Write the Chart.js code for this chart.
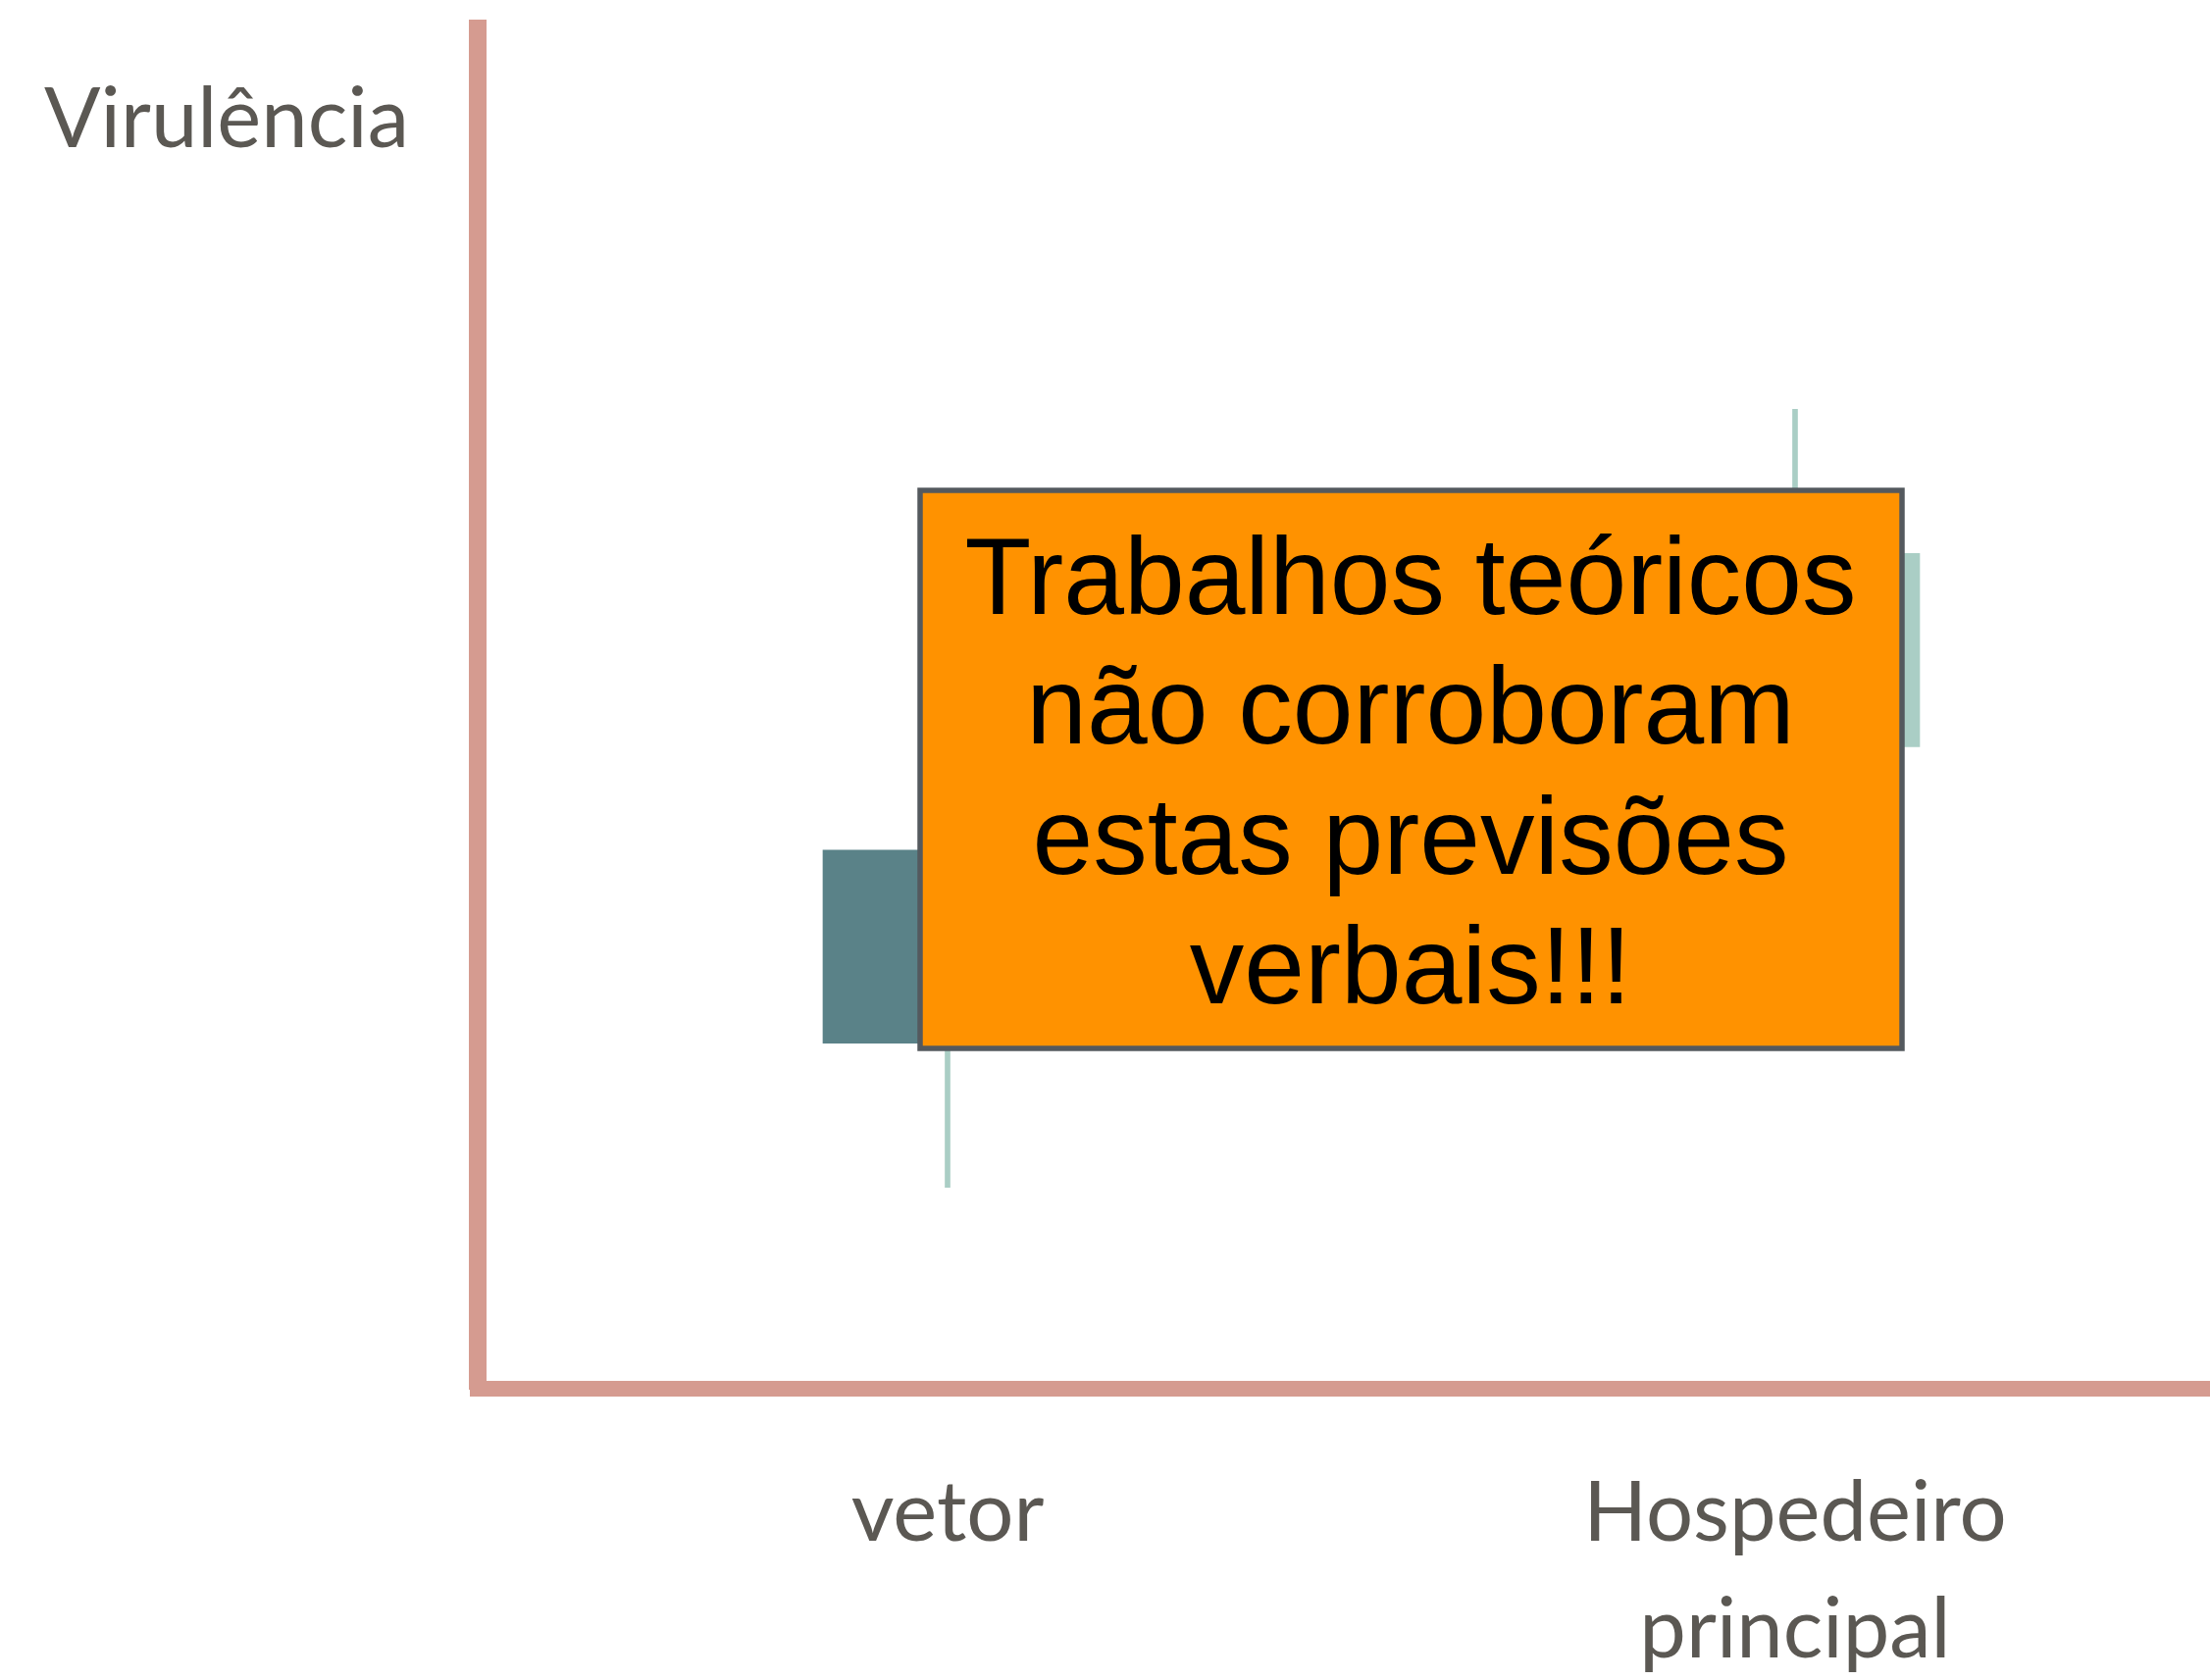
<!DOCTYPE html>
<html>
<head>
<meta charset="utf-8">
<title>Virulência</title>
<script src="https://cdn.jsdelivr.net/npm/chart.js@4.4.1/dist/chart.umd.min.js"></script>
<style>
  html, body { margin: 0; padding: 0; background: #ffffff; }
  #wrap { width: 2253px; height: 1713px; }
</style>
</head>
<body>
<div id="wrap"><canvas id="chart" width="2253" height="1713"></canvas></div>
<script>
// Chart data
const categories = ['vetor', ['Hospedeiro', 'principal']];
const catX = [1, 2];
const boxLow = [25.4, 47.2];
const boxHigh = [39.6, 61.4];
const whiskerLow = [14.8, 36.6];
const whiskerHigh = [50.2, 72.0];
const yTitle = 'Virulência';
const noteLines = ['Trabalhos teóricos', 'não corroboram', 'estas previsões', 'verbais!!!'];

const axisColor = '#d59b90';
const textColor = '#5b5853';

// Title at top left + the orange note drawn on top of the bars
const overlayPlugin = {
    id: 'overlay',
    afterDraw(chart) {
        const ctx = chart.ctx;
        ctx.save();
        ctx.fillStyle = textColor;
        ctx.font = '85px Lato';
        ctx.textAlign = 'left';
        ctx.textBaseline = 'alphabetic';
        ctx.fillText(yTitle, 45, 150);

        // note box
        ctx.fillStyle = '#ff9200';
        ctx.fillRect(938, 500, 1001, 569);
        ctx.strokeStyle = '#54595e';
        ctx.lineWidth = 5.5;
        ctx.strokeRect(938, 500, 1001, 569);

        ctx.fillStyle = '#000000';
        ctx.font = '111px "Liberation Sans"';
        ctx.textAlign = 'center';
        noteLines.forEach((line, i) => {
            ctx.fillText(line, 1438, 626 + i * 132.3);
        });
        ctx.restore();
    }
};

const ctx = document.getElementById('chart').getContext('2d');
const chart = new Chart(ctx, {
    type: 'bar',
    data: {
        datasets: [{
            label: 'whisker',
            data: catX.map((x, i) => ({ x: x, y: [whiskerLow[i], whiskerHigh[i]] })),
            backgroundColor: '#aacec5',
            barThickness: 5,
            grouped: false,
            order: 2
        }, {
            label: 'box',
            data: catX.map((x, i) => ({ x: x, y: [boxLow[i], boxHigh[i]] })),
            backgroundColor: ['#5a8288', '#aacec5'],
            barThickness: 254,
            grouped: false,
            order: 1
        }]
    },
    options: {
        responsive: false,
        animation: false,
        devicePixelRatio: 1,
        layout: { padding: { top: 29, left: 0, right: 0, bottom: 0 } },
        plugins: {
            legend: { display: false },
            tooltip: { enabled: false }
        },
        scales: {
            x: {
                type: 'linear',
                offset: false,
                min: 0.4456,
                max: 2.4896,
                grid: { display: false, drawTicks: false },
                border: { display: true, color: axisColor, width: 16 },
                afterBuildTicks: function(scale) {
                    scale.ticks = catX.map(v => ({ value: v }));
                },
                afterFit: function(scale) {
                    scale.height = 297;
                },
                ticks: {
                    autoSkip: false,
                    maxRotation: 0,
                    padding: 68,
                    color: textColor,
                    font: { family: 'Lato', size: 85, lineHeight: 1.4 },
                    callback: function(value) {
                        return categories[catX.indexOf(value)];
                    }
                }
            },
            y: {
                min: 0,
                max: 100,
                grid: { display: false, drawTicks: false },
                border: { display: true, color: axisColor, width: 18 },
                ticks: { display: false },
                afterFit: function(scale) {
                    scale.width = 487;
                }
            }
        }
    },
    plugins: [overlayPlugin]
});
</script>
</body>
</html>
